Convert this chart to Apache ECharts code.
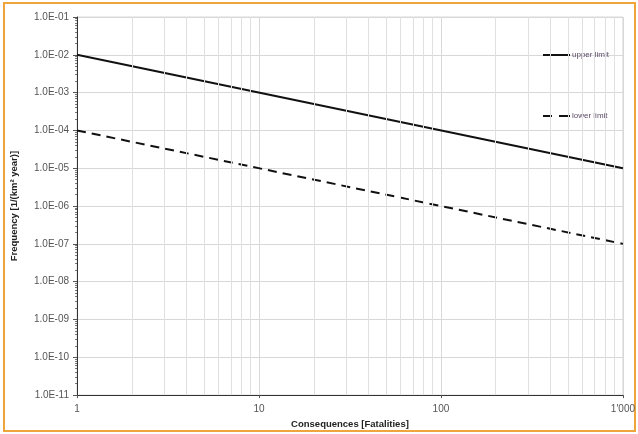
<!DOCTYPE html>
<html>
<head>
<meta charset="utf-8">
<script src="https://cdn.jsdelivr.net/npm/echarts@6/dist/echarts.min.js"></script>
<style>
html, body { margin: 0; padding: 0; background: #fff; }
#main { width: 638px; height: 434px; }
</style>
</head>
<body>
<div id="main"></div>
<script>
// data
var consequences = [1, 1000];
var upperLimit = [1e-2, 1e-5];
var lowerLimit = [1e-4, 1e-7];
var xMinorGrid = [2, 3, 4, 5, 6, 7, 8, 9, 20, 30, 40, 50, 60, 70, 80, 90, 200, 300, 400, 500, 600, 700, 800, 900];
var xTickLabels = { 1: '1', 10: '10', 100: '100', 1000: "1'000" };

function pairs(xs, ys) {
	var out = [];
	for (var i = 0; i < xs.length; i++) {
		out.push([xs[i], ys[i]]);
	}
	return out;
}

function yLabel(v) {
	var e = Math.round(Math.log10(v));
	var a = Math.abs(e);
	return '1.0E' + (e < 0 ? '-' : '+') + (a < 10 ? '0' + a : a);
}

var minorLines = [];
for (var m = 0; m < xMinorGrid.length; m++) {
	minorLines.push({ xAxis: xMinorGrid[m] });
}

var chart = echarts.init(document.getElementById('main'));
chart.setOption({
	animation: false,
	graphic: [{
		type: 'rect',
		shape: { x: 4, y: 3, width: 631, height: 428 },
		style: { fill: 'none', stroke: '#f0a43c', lineWidth: 2 },
		silent: true
	}],
	grid: {
		left: 77,
		right: 11,
		top: 17,
		bottom: 35,
		show: true,
		borderColor: '#d8d8d8',
		borderWidth: 1
	},
	legend: {
		orient: 'vertical',
		left: 538,
		top: 46,
		itemGap: 53,
		itemWidth: 27,
		itemHeight: 2,
		textStyle: { color: '#5a4a66', fontSize: 8, fontFamily: 'Liberation Sans', padding: [0, 0, 0, -3] },
		data: [
			{ name: 'upper limit', icon: 'path://M0,0h27v2h-27z' },
			{ name: 'lower limit', icon: 'path://M0,0h9v2h-9z M16,0h11v2h-11z' }
		]
	},
	xAxis: {
		type: 'log',
		logBase: 10,
		min: 1,
		max: 1000,
		name: 'Consequences [Fatalities]',
		nameLocation: 'middle',
		nameGap: 20,
		nameTextStyle: { color: '#222', fontSize: 9.5, fontWeight: 'bold', fontFamily: 'Liberation Sans' },
		axisLine: { lineStyle: { color: '#333', width: 1 } },
		axisTick: { show: true, length: 3, inside: false, lineStyle: { color: '#555' } },
		axisLabel: {
			margin: 9,
			color: '#555',
			fontSize: 10,
			fontFamily: 'Liberation Sans',
			formatter: function(v) { return xTickLabels[Math.round(v)] || ''; }
		},
		splitLine: { show: true, lineStyle: { color: '#d8d8d8', width: 1 } }
	},
	yAxis: {
		type: 'log',
		logBase: 10,
		min: 1e-11,
		max: 1e-1,
		interval: 1,
		splitNumber: 10,
		name: 'Frequency [1/(km\u00b2 year)]',
		nameLocation: 'middle',
		nameGap: 58,
		nameTextStyle: { color: '#222', fontSize: 9.5, fontWeight: 'bold', fontFamily: 'Liberation Sans' },
		axisLine: { show: true, lineStyle: { color: '#333', width: 1 } },
		axisTick: { show: true, length: 4, lineStyle: { color: '#555' } },
		minorTick: { show: true, splitNumber: 9, length: 2, lineStyle: { color: '#777' } },
		axisLabel: {
			margin: 8,
			color: '#555',
			fontSize: 10,
			fontFamily: 'Liberation Sans',
			formatter: yLabel
		},
		splitLine: { show: true, lineStyle: { color: '#d8d8d8', width: 1 } }
	},
	series: [{
		name: 'minor grid',
		type: 'line',
		data: [],
		silent: true,
		z: 1,
		markLine: {
			silent: true,
			symbol: ['none', 'none'],
			label: { show: false },
			lineStyle: { color: '#e0e0e0', type: 'solid', width: 1 },
			data: minorLines
		}
	}, {
		name: 'upper limit',
		type: 'line',
		z: 3,
		symbol: 'none',
		color: '#111',
		lineStyle: { color: '#111', width: 2 },
		data: pairs(consequences, upperLimit)
	}, {
		name: 'lower limit',
		type: 'line',
		z: 3,
		symbol: 'none',
		color: '#111',
		lineStyle: { color: '#111', width: 2, type: [9, 6] },
		data: pairs(consequences, lowerLimit)
	}]
});
</script>
</body>
</html>
